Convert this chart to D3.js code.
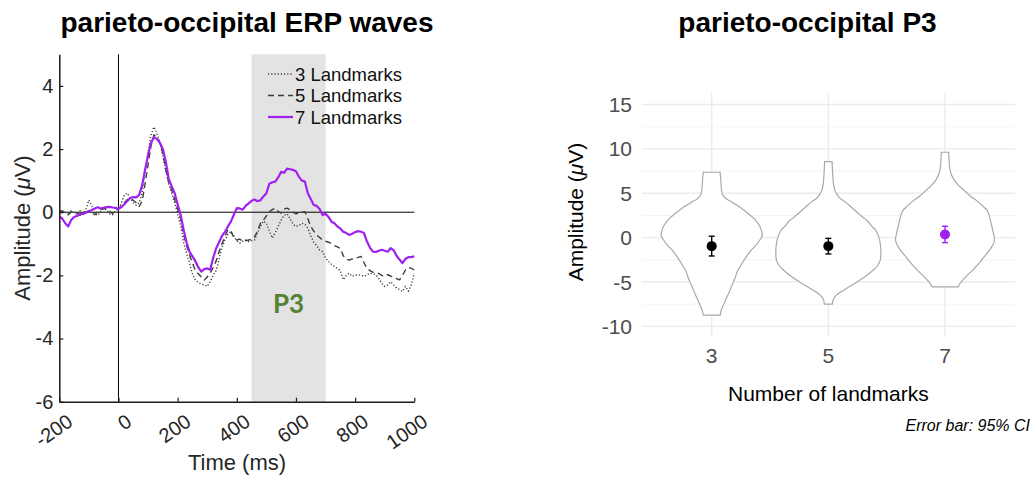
<!DOCTYPE html>
<html>
<head>
<meta charset="utf-8">
<script src="https://cdn.jsdelivr.net/npm/d3@7"></script>
<style>
  body { margin: 0; background: #fff; }
  svg { display: block; font-family: "Liberation Sans", Arial, Helvetica, sans-serif; }
</style>
</head>
<body>
<svg id="chart" width="1032" height="482"></svg>
<script>
// ---------- ERP waveforms (µV), sampled every 10 ms from -200 to 1000 ms ----------
const timesMs = d3.range(-200, 1001, 10);

const erp3 = [
  0.05, 0.02, 0.00, -0.05, 0.05, -0.02, -0.08, 0.05, -0.10, 0.10,
  0.38, 0.20, -0.05, -0.10, 0.02, 0.12, 0.08, -0.05, -0.08, 0.05,
  0.10, 0.30, 0.55, 0.60, 0.45, 0.30, 0.22, 0.30, 0.60, 1.30,
  1.90, 2.45, 2.70, 2.50, 2.20, 1.80, 1.30, 0.90, 0.60, 0.30,
  -0.05, -0.40, -0.95, -1.30, -1.60, -1.95, -2.15, -2.22, -2.28, -2.30,
  -2.35, -2.20, -2.00, -1.85, -1.50, -1.10, -0.88, -0.70, -0.62, -0.75,
  -0.90, -0.98, -0.92, -0.88, -0.93, -0.90, -0.88, -0.65, -0.45, -0.28,
  -0.35, -0.60, -0.82, -0.65, -0.45, -0.25, -0.10, -0.05, -0.20, -0.38,
  -0.45, -0.42, -0.35, -0.38, -0.50, -0.75, -0.95, -1.05, -1.20, -1.25,
  -1.45, -1.56, -1.65, -1.72, -1.78, -1.85, -2.14, -2.00, -1.93, -2.03,
  -2.00, -1.98, -2.00, -2.03, -1.98, -1.93, -1.95, -1.98, -2.10, -2.25,
  -2.35, -2.30, -2.20, -2.30, -2.40, -2.45, -2.51, -2.35, -2.50, -2.30,
  -1.93
];

const erp5 = [
  0.00, 0.05, -0.05, -0.08, 0.00, 0.03, -0.02, -0.10, -0.05, 0.00,
  0.05, -0.02, -0.08, 0.02, 0.08, 0.12, 0.10, 0.04, -0.05, 0.08,
  0.12, 0.20, 0.30, 0.40, 0.45, 0.38, 0.30, 0.18, 0.35, 0.90,
  1.50, 2.10, 2.45, 2.38, 2.20, 1.85, 1.35, 0.95, 0.70, 0.40,
  0.10, -0.20, -0.70, -1.05, -1.35, -1.60, -1.85, -1.95, -2.05, -2.15,
  -2.05, -1.93, -1.75, -1.55, -1.25, -1.00, -0.77, -0.55, -0.60, -0.80,
  -0.88, -0.85, -0.93, -0.90, -0.88, -0.85, -0.78, -0.60, -0.35, -0.25,
  -0.12, 0.02, 0.08, 0.13, 0.02, -0.03, 0.10, 0.13, 0.07, 0.00,
  -0.05, -0.02, 0.00, 0.02, -0.20, -0.45, -0.60, -0.72, -0.80, -0.88,
  -0.92, -0.95, -1.00, -1.06, -1.10, -1.15, -1.38, -1.48, -1.52, -1.48,
  -1.45, -1.43, -1.40, -1.60, -1.78, -1.85, -1.90, -1.92, -1.94, -2.00,
  -2.03, -1.98, -2.02, -2.08, -2.10, -2.14, -2.00, -1.83, -1.75, -1.78,
  -1.83
];

const erp7 = [
  -0.14, -0.20, -0.35, -0.45, -0.25, -0.15, -0.12, -0.06, -0.05, -0.02,
  0.03, 0.07, 0.12, 0.16, 0.12, 0.14, 0.16, 0.17, 0.15, 0.14,
  0.10, 0.16, 0.25, 0.36, 0.45, 0.48, 0.47, 0.55, 0.85, 1.35,
  1.80, 2.20, 2.37, 2.32, 2.20, 2.00, 1.60, 1.05, 0.82, 0.60,
  0.25, -0.08, -0.55, -0.95, -1.25, -1.40, -1.55, -1.75, -1.88, -1.80,
  -1.78, -1.82, -1.45, -1.15, -0.95, -0.75, -0.62, -0.45, -0.30, -0.08,
  0.13, 0.12, 0.08, 0.20, 0.28, 0.36, 0.40, 0.35, 0.38, 0.50,
  0.60, 0.90, 0.95, 0.97, 1.10, 1.28, 1.25, 1.38, 1.36, 1.34,
  1.30, 1.12, 1.00, 0.97, 0.60, 0.42, 0.23, 0.20, 0.10, -0.09,
  -0.05, -0.15, -0.30, -0.35, -0.45, -0.52, -0.62, -0.66, -0.72, -0.68,
  -0.63, -0.60, -0.62, -0.66, -0.93, -1.12, -1.25, -1.26, -1.22, -1.19,
  -1.22, -1.25, -1.14, -1.20, -1.38, -1.50, -1.61, -1.48, -1.42, -1.42,
  -1.40
];

const seriesNames = ["3 Landmarks", "5 Landmarks", "7 Landmarks"];
const p3Window = [450, 700];
const erpTicksX = [-200, 0, 200, 400, 600, 800, 1000];
const erpTicksY = [-6, -4, -2, 0, 2, 4];

// ---------- P3 amplitude per condition ----------
const landmarkGroups = ["3", "5", "7"];
const p3Mean   = [-0.96, -0.96, 0.36];
const p3CiLow  = [-2.07, -1.84, -0.56];
const p3CiHigh = [0.16, -0.08, 1.28];
const p3TicksY = [-10, -5, 0, 5, 10, 15];
const p3MinorY = [-7.5, -2.5, 2.5, 7.5, 12.5];

// violin outlines: amplitude levels (top to bottom) and kernel density (relative)
const violin3Values  = [7.37, 6.8, 6.0, 5.3, 4.8, 4.4, 4.0, 3.5, 3.0, 2.5, 1.9, 1.3, 0.7, 0.2, -0.3, -0.9, -1.5, -2.2, -3.0, -3.8, -4.6, -5.5, -6.3, -7.1, -7.8, -8.3, -8.73];
const violin3Density = [8.3, 8.8, 9.3, 9.8, 11, 14, 20, 27, 33, 38.5, 44, 47.5, 49.5, 50, 47.5, 43.5, 38.5, 34, 29.5, 25.5, 23, 19.5, 16.7, 13.5, 10.8, 9.2, 8.5];
const violin5Values  = [8.57, 7.8, 6.8, 6.0, 5.3, 4.8, 4.4, 4.0, 3.5, 3.0, 2.4, 1.9, 1.3, 0.8, 0.2, -0.4, -1.4, -2.5, -3.2, -3.7, -4.3, -4.8, -5.3, -5.9, -6.3, -6.7, -7.1, -7.5];
const violin5Density = [3.7, 4, 4.5, 5.2, 6.5, 9, 12, 17, 22, 27, 33, 38.5, 43, 47, 49.5, 51, 52, 51.5, 48.5, 44, 37.5, 31, 24, 15.5, 10, 6.3, 4.5, 4];
const violin7Values  = [9.62, 8.8, 7.9, 7.2, 6.6, 6.0, 5.3, 4.7, 4.2, 3.6, 3.07, 2.5, 1.94, 0.82, -0.3, -0.9, -1.43, -2.0, -2.55, -3.1, -3.67, -4.2, -4.8, -5.2, -5.55];
const violin7Density = [3.7, 4, 4.6, 6, 8.5, 12.5, 19, 25, 31, 37, 41.7, 43.8, 45, 47.3, 49, 47, 44, 40, 36, 32, 27.5, 22.5, 17.5, 14.5, 12.8];

const svg = d3.select("#chart");
const purple = "#A020F0";
const lineGrey = "#3c3c3c";
const plainNumber = d => String(d);

// ===================== left panel: ERP waves =====================
const xL = d3.scaleLinear().domain([-200, 1000]).range([59.3, 414.3]);
const yL = d3.scaleLinear().domain([-6, 5]).range([401.7, 54.3]);
const left = svg.append("g");

left.append("rect")
  .attr("x", xL(p3Window[0])).attr("width", xL(p3Window[1]) - xL(p3Window[0]))
  .attr("y", yL(5)).attr("height", yL(-6) - yL(5))
  .attr("fill", "#e3e3e3");

left.append("text")
  .attr("x", xL((p3Window[0] + p3Window[1]) / 2)).attr("y", yL(-3.2))
  .attr("text-anchor", "middle")
  .attr("font-family", "Lato, 'Open Sans', sans-serif")
  .attr("font-weight", "bold").attr("font-size", 26)
  .attr("fill", "#548235").text("P3");

// reference lines at 0 ms and 0 µV
left.append("line")
  .attr("x1", xL(-200)).attr("x2", xL(1000)).attr("y1", yL(0)).attr("y2", yL(0))
  .attr("stroke", "#000").attr("stroke-width", 1);
left.append("line")
  .attr("x1", xL(0)).attr("x2", xL(0)).attr("y1", yL(5)).attr("y2", yL(-6))
  .attr("stroke", "#000").attr("stroke-width", 1);

const erpLine = d3.line().x((d, i) => xL(timesMs[i])).y(d => yL(d));
const styles = [
  { data: erp3, stroke: lineGrey, width: 1.4, dash: "1.2 2" },
  { data: erp5, stroke: lineGrey, width: 1.4, dash: "6 4" },
  { data: erp7, stroke: purple, width: 2.2, dash: null }
];
styles.forEach(s => {
  left.append("path").datum(s.data)
    .attr("d", erpLine).attr("fill", "none")
    .attr("stroke", s.stroke).attr("stroke-width", s.width)
    .attr("stroke-dasharray", s.dash)
    .attr("stroke-linejoin", "round");
});

// legend
const legend = left.append("g");
seriesNames.forEach((name, i) => {
  const y = 74 + i * 21.5;
  legend.append("line")
    .attr("x1", 268).attr("x2", 293).attr("y1", y).attr("y2", y)
    .attr("stroke", styles[i].stroke).attr("stroke-width", styles[i].width)
    .attr("stroke-dasharray", styles[i].dash);
  legend.append("text")
    .attr("x", 295).attr("y", y).attr("dy", "0.36em")
    .attr("font-size", 18.5).attr("fill", "#111").text(name);
});

// axes
const axL = left.append("g").attr("transform", `translate(${xL(-200)},0)`)
  .call(d3.axisLeft(yL).tickValues(erpTicksY).tickFormat(plainNumber)
    .tickSize(-4).tickSizeOuter(0).tickPadding(6));
const axB = left.append("g").attr("transform", `translate(0,${yL(-6)})`)
  .call(d3.axisBottom(xL).tickValues(erpTicksX).tickFormat(plainNumber)
    .tickSize(-4).tickSizeOuter(0));
[axL, axB].forEach(a => {
  a.select(".domain").attr("stroke", "#1a1a1a").attr("stroke-width", 1.5);
  a.selectAll(".tick line").attr("stroke", "#1a1a1a").attr("stroke-width", 1.2);
  a.selectAll("text").attr("font-size", 20).attr("fill", "#262626")
    .attr("font-family", "'Liberation Sans', Arial, sans-serif");
});
axB.selectAll(".tick text")
  .attr("text-anchor", "end")
  .attr("y", 0).attr("dy", "0.72em")
  .attr("transform", "translate(6,11) rotate(-35)");

left.append("text")
  .attr("x", 237).attr("y", 470).attr("text-anchor", "middle")
  .attr("font-size", 22).attr("fill", "#262626").text("Time (ms)");

const yTitleL = left.append("text")
  .attr("transform", `translate(30,${(yL(5) + yL(-6)) / 2}) rotate(-90)`)
  .attr("text-anchor", "middle").attr("font-size", 22).attr("fill", "#262626");
yTitleL.append("tspan").text("Amplitude (");
yTitleL.append("tspan").attr("font-style", "italic").text("\u03BC");
yTitleL.append("tspan").text("V)");

left.append("text")
  .attr("x", 247).attr("y", 32).attr("text-anchor", "middle")
  .attr("font-size", 28).attr("font-weight", "bold").attr("fill", "#000")
  .text("parieto-occipital ERP waves");

// ===================== right panel: P3 violins =====================
const xR = d3.scalePoint().domain(landmarkGroups).range([641.7, 1015]).padding(0.6);
const yR = d3.scaleLinear().domain([-11.2, 16.3]).range([337, 93]);
const halfW = d3.scaleLinear().domain([0, 52]).range([0, 0.45 * xR.step()]);
const right = svg.append("g");

right.selectAll("line.minor").data(p3MinorY).join("line")
  .attr("x1", xR.range()[0]).attr("x2", xR.range()[1])
  .attr("y1", d => yR(d)).attr("y2", d => yR(d))
  .attr("stroke", "#f4f4f4").attr("stroke-width", 1);
right.selectAll("line.major").data(p3TicksY).join("line")
  .attr("x1", xR.range()[0]).attr("x2", xR.range()[1])
  .attr("y1", d => yR(d)).attr("y2", d => yR(d))
  .attr("stroke", "#ebebeb").attr("stroke-width", 1.4);
right.selectAll("line.vgrid").data(landmarkGroups).join("line")
  .attr("x1", d => xR(d)).attr("x2", d => xR(d))
  .attr("y1", yR.range()[0]).attr("y2", yR.range()[1])
  .attr("stroke", "#ebebeb").attr("stroke-width", 1.4);

const violins = [
  { values: violin3Values, density: violin3Density },
  { values: violin5Values, density: violin5Density },
  { values: violin7Values, density: violin7Density }
];
violins.forEach((v, i) => {
  const cx = xR(landmarkGroups[i]);
  const pts = v.values.map((val, k) => ({ val, dens: v.density[k] }));
  const area = d3.area()
    .y(d => yR(d.val))
    .x0(d => cx - halfW(d.dens))
    .x1(d => cx + halfW(d.dens))
    .curve(d3.curveCatmullRom.alpha(0.5));
  right.append("path").datum(pts)
    .attr("d", area).attr("fill", "#fff")
    .attr("stroke", "#a8a8a8").attr("stroke-width", 1.2);
});

// means with 95% CI
const pointColors = ["#000", "#000", purple];
landmarkGroups.forEach((g, i) => {
  const cx = xR(g);
  const c = pointColors[i];
  right.append("line")
    .attr("x1", cx).attr("x2", cx).attr("y1", yR(p3CiLow[i])).attr("y2", yR(p3CiHigh[i]))
    .attr("stroke", c).attr("stroke-width", 1.4);
  [p3CiLow[i], p3CiHigh[i]].forEach(v => {
    right.append("line")
      .attr("x1", cx - 3).attr("x2", cx + 3).attr("y1", yR(v)).attr("y2", yR(v))
      .attr("stroke", c).attr("stroke-width", 1.4);
  });
  right.append("circle")
    .attr("cx", cx).attr("cy", yR(p3Mean[i])).attr("r", 5).attr("fill", c);
});

// axis labels
right.selectAll("text.ytick").data(p3TicksY).join("text")
  .attr("x", 632).attr("y", d => yR(d)).attr("dy", "0.36em")
  .attr("text-anchor", "end").attr("font-size", 21).attr("fill", "#4d4d4d")
  .text(plainNumber);
right.selectAll("text.xtick").data(landmarkGroups).join("text")
  .attr("x", d => xR(d)).attr("y", 363).attr("text-anchor", "middle")
  .attr("font-size", 21).attr("fill", "#4d4d4d").text(d => d);

right.append("text")
  .attr("x", (xR.range()[0] + xR.range()[1]) / 2).attr("y", 400.5)
  .attr("text-anchor", "middle").attr("font-size", 21).attr("fill", "#000")
  .text("Number of landmarks");

const yTitleR = right.append("text")
  .attr("transform", "translate(583,212) rotate(-90)")
  .attr("text-anchor", "middle").attr("font-size", 21).attr("fill", "#000");
yTitleR.append("tspan").text("Amplitude (");
yTitleR.append("tspan").attr("font-style", "italic").text("\u03BC");
yTitleR.append("tspan").text("V)");

right.append("text")
  .attr("x", 1030).attr("y", 430.5).attr("text-anchor", "end")
  .attr("font-size", 16).attr("font-style", "italic").attr("fill", "#000")
  .text("Error bar: 95% CI");

right.append("text")
  .attr("x", 807.5).attr("y", 32).attr("text-anchor", "middle")
  .attr("font-size", 28).attr("font-weight", "bold").attr("fill", "#000")
  .text("parieto-occipital P3");
</script>
</body>
</html>
